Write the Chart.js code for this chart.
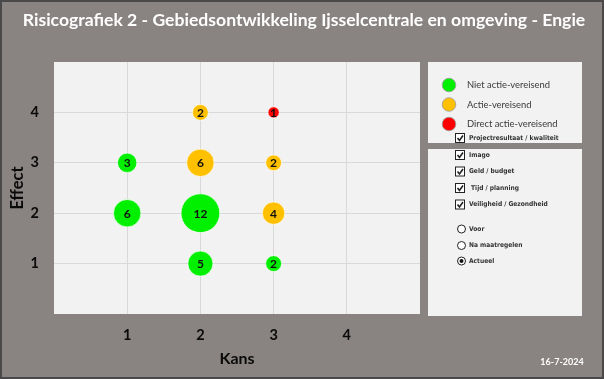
<!DOCTYPE html>
<html>
<head>
<meta charset="utf-8">
<script src="https://cdn.jsdelivr.net/npm/chart.js@4.4.1/dist/chart.umd.min.js"></script>
<style>
  html, body { margin: 0; padding: 0; background: #898382; }
  canvas { display: block; }
</style>
</head>
<body>
<canvas id="c" width="604" height="379"></canvas>
<script>
// ---- data ----
const chartTitle = 'Risicografiek 2 - Gebiedsontwikkeling Ijsselcentrale en omgeving - Engie';
const xTickLabels = ['1', '2', '3', '4'];
const yTickLabels = ['1', '2', '3', '4'];
const seriesNames = ['Niet actie-vereisend', 'Actie-vereisend', 'Direct actie-vereisend'];
const seriesColors = ['#00f000', '#ffc000', '#ff0000'];
// [kans, effect, aantal]
const nietActie = [[1, 3, 3], [1, 2, 6], [2, 2, 12], [2, 1, 5], [3, 1, 2]];
const actie = [[2, 4, 2], [2, 3, 6], [3, 3, 2], [3, 2, 4]];
const directActie = [[3, 4, 1]];
const checkboxItems = ['Projectresultaat / kwaliteit', 'Imago', 'Geld / budget', ' Tijd / planning', 'Veiligheid / Gezondheid'];
const radioItems = ['Voor', 'Na maatregelen', 'Actueel'];
const radioSelected = 'Actueel';
const dateText = '16-7-2024';

const FONT = 'Lato, "Open Sans", sans-serif';
const SMALLFONT = '"DejaVu Sans Condensed", "DejaVu Sans", sans-serif';
const BG = '#898382';
const PANEL = '#f2f2f2';

function toPoints(arr) { return arr.map(a => ({ x: a[0], y: a[1], n: a[2] })); }
const seriesData = [nietActie, actie, directActie];

const datasets = seriesData.map((d, i) => ({
  label: seriesNames[i],
  data: toPoints(d),
  backgroundColor: seriesColors[i],
  borderColor: 'rgba(255,255,255,0.7)',
  borderWidth: 1,
  radius: ctx => { const v = ctx.raw; return v ? 5.6 * Math.sqrt(v.n) : 0; },
  hoverRadius: 0
}));

const bgPlugin = {
  id: 'bg',
  beforeDraw(chart) {
    const { ctx, width, height, chartArea: a } = chart;
    ctx.save();
    ctx.fillStyle = BG;
    ctx.fillRect(0, 0, width, height);
    ctx.strokeStyle = '#4a4848';
    ctx.lineWidth = 2;
    ctx.strokeRect(1, 1, width - 2, height - 2);
    ctx.fillStyle = PANEL;
    ctx.fillRect(a.left, a.top, a.right - a.left, a.bottom - a.top);
    // title
    ctx.fillStyle = '#ffffff';
    ctx.font = 'bold 17.6px ' + FONT;
    ctx.textAlign = 'center';
    ctx.textBaseline = 'middle';
    ctx.fillText(chartTitle, 304, 20.5);
    // date
    ctx.font = 'bold 9px ' + FONT;
    ctx.fillText(dateText, 562, 362);
    ctx.restore();
  }
};

const labelPlugin = {
  id: 'bubbleLabels',
  afterDatasetsDraw(chart) {
    const { ctx } = chart;
    ctx.save();
    ctx.fillStyle = '#111111';
    ctx.font = 'bold 12px ' + FONT;
    ctx.textAlign = 'center';
    ctx.textBaseline = 'middle';
    chart.data.datasets.forEach((ds, i) => {
      chart.getDatasetMeta(i).data.forEach((el, j) => {
        ctx.fillText(String(ds.data[j].n), el.x, el.y + 0.5);
      });
    });
    ctx.restore();
  }
};

const legendPlugin = {
  id: 'sideLegend',
  afterDraw(chart) {
    const { ctx } = chart;
    ctx.save();
    ctx.fillStyle = PANEL;
    ctx.fillRect(428, 62, 154, 81);
    ctx.fillRect(428, 149, 154, 167);
    // series legend
    const ys = [85, 104.5, 124];
    chart.data.datasets.forEach((ds, i) => {
      ctx.beginPath();
      ctx.arc(449, ys[i], 6.8, 0, Math.PI * 2);
      ctx.fillStyle = ds.backgroundColor;
      ctx.fill();
      ctx.strokeStyle = '#9a9a9a';
      ctx.lineWidth = 0.8;
      ctx.stroke();
      ctx.fillStyle = '#3a3a3a';
      ctx.font = '9.4px ' + FONT;
      ctx.textAlign = 'left';
      ctx.textBaseline = 'middle';
      ctx.fillText(ds.label, 467, ys[i]);
    });
    // checkboxes
    const cys = [138, 155, 171.5, 188, 204.5];
    checkboxItems.forEach((t, i) => {
      const y = cys[i];
      ctx.fillStyle = '#ffffff';
      ctx.fillRect(455.5, y - 4.5, 9, 9);
      ctx.strokeStyle = '#222';
      ctx.lineWidth = 1;
      ctx.strokeRect(455.5, y - 4.5, 9, 9);
      ctx.beginPath();
      ctx.moveTo(457.5, y);
      ctx.lineTo(459.5, y + 2.5);
      ctx.lineTo(463, y - 2.5);
      ctx.lineWidth = 1.6;
      ctx.stroke();
      ctx.fillStyle = '#333';
      ctx.font = 'bold 6.6px ' + SMALLFONT;
      ctx.textAlign = 'left';
      ctx.textBaseline = 'middle';
      ctx.fillText(t, 469, y);
    });
    // radios
    const rys = [229, 245.5, 261];
    radioItems.forEach((t, i) => {
      const y = rys[i];
      ctx.beginPath();
      ctx.arc(461.5, y, 4, 0, Math.PI * 2);
      ctx.fillStyle = '#ffffff';
      ctx.fill();
      ctx.strokeStyle = '#222';
      ctx.lineWidth = 1;
      ctx.stroke();
      if (t === radioSelected) {
        ctx.beginPath();
        ctx.arc(461.5, y, 2, 0, Math.PI * 2);
        ctx.fillStyle = '#111';
        ctx.fill();
      }
      ctx.fillStyle = '#333';
      ctx.font = 'bold 6.6px ' + SMALLFONT;
      ctx.textAlign = 'left';
      ctx.textBaseline = 'middle';
      ctx.fillText(t, 469, y);
    });
    ctx.restore();
  }
};

new Chart(document.getElementById('c'), {
  type: 'bubble',
  data: { datasets },
  plugins: [bgPlugin, labelPlugin, legendPlugin],
  options: {
    responsive: false,
    animation: false,
    events: [],
    clip: false,
    layout: { padding: { left: 0, top: 62, right: 184, bottom: 0 } },
    plugins: { legend: { display: false }, tooltip: { enabled: false }, title: { display: false } },
    scales: {
      x: {
        type: 'linear', min: 0, max: 5,
        afterFit: s => { s.height = 65; },
        border: { display: false },
        grid: { drawTicks: false, color: c => (c.tick && c.tick.value > 0 && c.tick.value < 5) ? '#d9d9d9' : 'rgba(0,0,0,0)', lineWidth: 1 },
        ticks: {
          stepSize: 1, padding: 13, color: '#0a0a0a', font: { family: FONT, size: 14.5, weight: 'bold' },
          callback: v => xTickLabels[v - 1] !== undefined ? xTickLabels[v - 1] : ''
        },
        title: { display: true, text: 'Kans', color: '#0a0a0a', font: { family: FONT, size: 16, weight: 'bold' }, padding: { top: 0, bottom: 11 } }
      },
      y: {
        type: 'linear', min: 0, max: 5,
        afterFit: s => { s.width = 54; },
        border: { display: false },
        grid: { drawTicks: false, color: c => (c.tick && c.tick.value > 0 && c.tick.value < 5) ? '#d9d9d9' : 'rgba(0,0,0,0)', lineWidth: 1 },
        ticks: {
          stepSize: 1, padding: 15, color: '#0a0a0a', font: { family: FONT, size: 14.5, weight: 'bold' },
          callback: v => yTickLabels[v - 1] !== undefined ? yTickLabels[v - 1] : ''
        },
        title: { display: true, text: 'Effect', color: '#0a0a0a', font: { family: FONT, size: 16.5, weight: 'bold' }, padding: { top: 8, bottom: 0 } }
      }
    }
  }
});
</script>
</body>
</html>
